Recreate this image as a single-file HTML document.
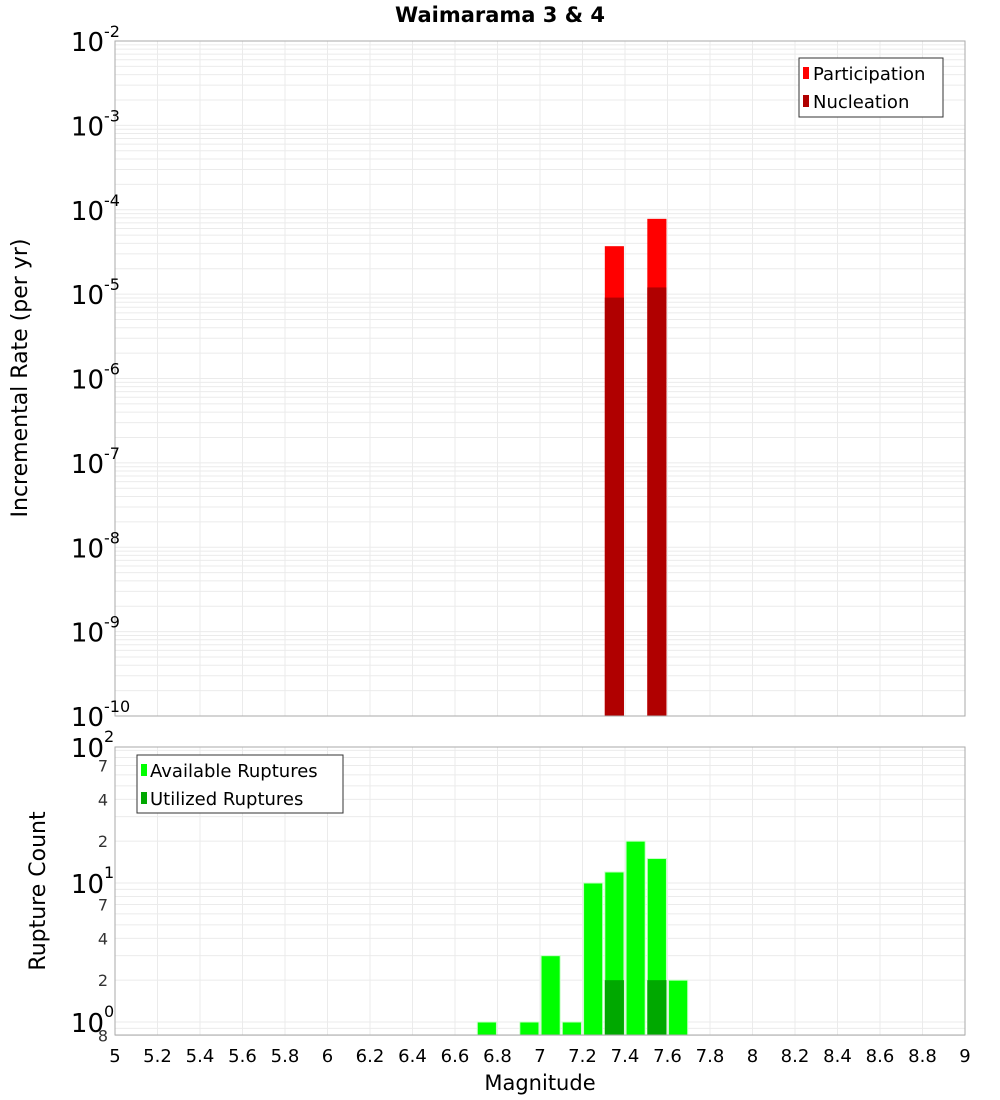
<!DOCTYPE html>
<html><head><meta charset="utf-8"><style>
body{margin:0;background:#fff;font-family:"Liberation Sans","DejaVu Sans",sans-serif}
svg{display:block}
</style></head><body>
<svg id="c" width="1000" height="1100" xmlns="http://www.w3.org/2000/svg">
<text x="500" y="22" text-anchor="middle" font-size="21" font-weight="bold" font-family="DejaVu Sans, sans-serif">Waimarama 3 &amp; 4</text>
<g id="grid"></g>
<g id="bars"></g>
<rect x="115" y="41" width="850" height="675" fill="none" stroke="#aaa"/>
<rect x="115" y="747" width="850" height="288" fill="none" stroke="#aaa"/>
<g id="labels" font-family="DejaVu Sans, sans-serif"></g>
<text transform="translate(27,378) rotate(-90)" text-anchor="middle" font-size="22" font-family="DejaVu Sans, sans-serif">Incremental Rate (per yr)</text>
<text transform="translate(45,891) rotate(-90)" text-anchor="middle" font-size="22" font-family="DejaVu Sans, sans-serif">Rupture Count</text>
<text x="540" y="1090" text-anchor="middle" font-size="21" font-family="DejaVu Sans, sans-serif">Magnitude</text>
<g font-family="DejaVu Sans, sans-serif" font-size="18">
<rect x="799" y="58" width="144" height="59" fill="#fff" stroke="#333"/>
<rect x="803" y="67" width="6" height="12" fill="#ff0000"/>
<text x="813" y="80">Participation</text>
<rect x="803" y="95" width="6" height="12" fill="#b00000"/>
<text x="813" y="108">Nucleation</text>
</g>
<g font-family="DejaVu Sans, sans-serif" font-size="18">
<rect x="137" y="755" width="206" height="58" fill="#fff" stroke="#333"/>
<rect x="141" y="764" width="6" height="12" fill="#00ff00"/>
<text x="150" y="777">Available Ruptures</text>
<rect x="141" y="792" width="6" height="12" fill="#00a800"/>
<text x="150" y="805">Utilized Ruptures</text>
</g>
</svg>
<script>
const mags=[7.35,7.55];
const participation=[3.7e-5,7.8e-5];
const nucleation=[9.1e-6,1.2e-5];
const cMags=[6.75,6.95,7.05,7.15,7.25,7.35,7.45,7.55,7.65];
const available=[1,1,3,1,10,12,20,15,2];
const uMags=[7.35,7.55];
const utilized=[2,2];
const xTicks=[5,5.2,5.4,5.6,5.8,6,6.2,6.4,6.6,6.8,7,7.2,7.4,7.6,7.8,8,8.2,8.4,8.6,8.8,9];
const topExp=[-2,-3,-4,-5,-6,-7,-8,-9,-10];
const botMinor=[2,4,7];

const NS="http://www.w3.org/2000/svg";
const X=m=>115+(m-5)*212.5;
const YT=v=>41+(-2-Math.log10(v))*84.375;
const YB=v=>1022-Math.log10(v)*139;
function mk(t,a,p){const e=document.createElementNS(NS,t);for(const k in a)e.setAttribute(k,a[k]);p.appendChild(e);return e;}
const grid=document.getElementById('grid'),bars=document.getElementById('bars'),labels=document.getElementById('labels');
// grid
xTicks.forEach(t=>{
 let l=mk('line',{x1:X(t),x2:X(t),y1:41,y2:716,stroke:'#ebebeb'},grid);
 
 
 let l2=mk('line',{x1:X(t),x2:X(t),y1:747,y2:1035,stroke:'#ebebeb'},grid);
 
 
 let tx=mk('text',{x:X(t),y:1062,'text-anchor':'middle','font-size':18},labels);
 tx.textContent=String(t);
 
 
});
for(let e=-10;e<-2;e++)for(let k=1;k<10;k++){const y=YT(k*Math.pow(10,e));
 let l=mk('line',{x1:115,x2:965,y1:y,y2:y,stroke:'#ebebeb'},grid);
 
 }
for(let e=-1;e<2;e++)for(let k=1;k<10;k++){const v=k*Math.pow(10,e);if(v<0.8||v>95)continue;const y=YB(v);
 let l=mk('line',{x1:115,x2:965,y1:y,y2:y,stroke:'#ebebeb'},grid);
 
 }
// top labels
topExp.forEach(e=>{const y=YT(Math.pow(10,e));
 let t=mk('text',{x:104,y:y+10,'text-anchor':'end','font-size':26},labels);t.textContent='10';
 
 
 let s=mk('text',{x:104,y:y-4,'font-size':16},labels);s.textContent=String(e);
 
 });
[[0,1],[1,10],[2,100]].forEach(([e,v])=>{const y=Math.max(YB(v),747);
 let t=mk('text',{x:104,y:y+10,'text-anchor':'end','font-size':26},labels);t.textContent='10';
 
 
 let s=mk('text',{x:104,y:y-5,'font-size':16},labels);s.textContent=String(e);
 
 });
[0.8,2,4,7,20,40,70].forEach(v=>{const y=YB(v);
 let t=mk('text',{x:108,y:y+6,'text-anchor':'end','font-size':16,fill:'#333'},labels);t.textContent=String(v<1?8:(v>=10?v/10:v));
 
 });
// top bars
const bw=0.09;
mags.forEach((m,i)=>{
 let r=mk('rect',{x:X(m-bw/2),width:bw*212.5,y:YT(participation[i]),height:716-YT(participation[i]),fill:'#ff0000'},bars);
 
 
 let n=mk('rect',{x:X(m-bw/2),width:bw*212.5,y:YT(nucleation[i]),height:716-YT(nucleation[i]),fill:'#b00000'},bars);
 
 
});
cMags.forEach((m,i)=>{
 let r=mk('rect',{x:X(m-bw/2),width:bw*212.5,y:YB(available[i]),height:1035-YB(available[i]),fill:'#00ff00',stroke:'#c8ffc8','stroke-width':1},bars);
 
 
});
uMags.forEach((m,i)=>{
 let r=mk('rect',{x:X(m-bw/2),width:bw*212.5,y:YB(utilized[i]),height:1035-YB(utilized[i]),fill:'#00a800'},bars);
 
 
});
</script>
</body></html>
